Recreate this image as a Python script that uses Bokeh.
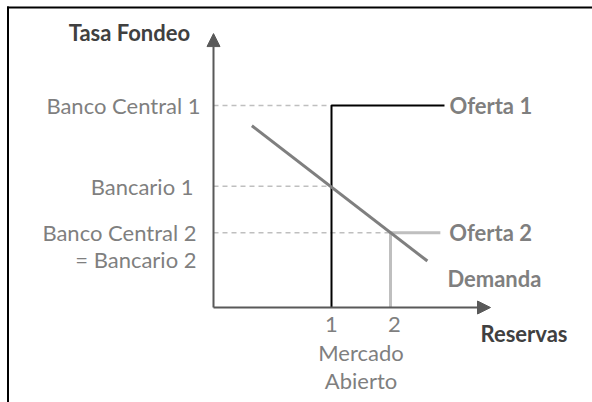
from bokeh.plotting import figure
from bokeh.models import Range1d, Arrow, NormalHead, Label, Span
from bokeh.embed import file_html
from bokeh.resources import INLINE

# ---- data (conceptual units) ----
rate_labels = ["Banco Central 1", "Bancario 1", "Banco Central 2"]
rate_levels = [10.0, 6.0, 3.7]
rate_reserve = [4.0, 4.0, 6.0]          # where each dashed guide ends
extra_rate_label = "= Bancario 2"
reserve_ticks = ["1", "2"]
reserve_levels = [4.0, 6.0]
omo_label = ["Mercado", "Abierto"]
demand_x = [1.3, 7.25]
demand_y = [9.0, 2.3]
supply1_x = [4.0, 4.0, 7.83]
supply1_y = [0.0, 10.0, 10.0]
supply2_x = [6.0, 6.0, 7.69]
supply2_y = [0.0, 3.7, 3.7]
axis_x_max = 9.39
axis_y_max = 13.56
y_title = "Tasa  Fondeo"
x_title = "Reservas"
supply_names = ["Oferta 1", "Oferta 2"]
demand_name = "Demanda"

# ---- layout ----
W, H = 592, 402
PX_X, PX_Y = 29.5, 20.2
OX, OY = 213, 307            # pixel position of the origin inside the figure
x0 = -OX / PX_X
y1 = OY / PX_Y
xr = Range1d(x0, x0 + W / PX_X)
yr = Range1d(y1 - H / PX_Y, y1)

p = figure(width=W, height=H, x_range=xr, y_range=yr, min_border=0,
           toolbar_location=None, output_backend="svg",
           x_axis_location=None, y_axis_location=None)
p.grid.visible = False
p.outline_line_color = None
p.background_fill_color = "white"

FONT = "Lato"
GRAY = "#7f7f7f"
DARK = "#404040"
AX = "#595959"
FS = "22px"

# frame (top and left edges)
frame_left = xr.start + 7.5 / PX_X
frame_top = yr.end - 7 / PX_Y
p.segment(x0=[frame_left], y0=[frame_top + 1 / PX_Y], x1=[frame_left], y1=[yr.start],
          line_color="black", line_width=2)
p.segment(x0=[frame_left - 1 / PX_X], y0=[frame_top], x1=[xr.end], y1=[frame_top],
          line_color="black", line_width=2)

# dashed guides
p.segment(x0=[0] * len(rate_levels), y0=rate_levels, x1=rate_reserve, y1=rate_levels,
          line_color="#bfbfbf", line_width=1.5, line_dash="5 4")

# supply curves
p.line(supply1_x, supply1_y, line_color="black", line_width=2)
p.line(supply2_x, supply2_y, line_color="#bfbfbf", line_width=3)

# demand
p.line(demand_x, demand_y, line_color=GRAY, line_width=3)

# axes with arrows
p.add_layout(Arrow(end=NormalHead(size=13, fill_color=AX, line_color=AX),
                   x_start=0, y_start=0, x_end=0, y_end=axis_y_max,
                   line_color=AX, line_width=2))
p.add_layout(Arrow(end=NormalHead(size=13, fill_color=AX, line_color=AX),
                   x_start=0, y_start=0, x_end=axis_x_max, y_end=0,
                   line_color=AX, line_width=2))

def lab(x, y, text, dx=0, dy=0, align="left", bold=False, color=GRAY, size=FS):
    p.add_layout(Label(x=x, y=y, text=text, x_offset=dx, y_offset=dy,
                       text_align=align, text_baseline="middle",
                       text_font=FONT, text_font_size=size, text_color=color,
                       text_font_style="bold" if bold else "normal"))

# rate labels
offs = [-13, -20, -17]
for t, lv, dx in zip(rate_labels, rate_levels, offs):
    lab(0, lv, t, dx=dx, align="right")
lab(0, rate_levels[2], extra_rate_label, dx=-17, dy=-27, align="right")

# reserve ticks
for t, lv, dx in zip(reserve_ticks, reserve_levels, [0, 4]):
    lab(lv, 0, t, dx=dx, dy=-17, align="center")
mid = (reserve_levels[0] + reserve_levels[1]) / 2
lab(mid, 0, omo_label[0], dy=-45, align="center")
lab(mid, 0, omo_label[1], dy=-73, align="center")

# titles
lab(0, axis_y_max, y_title, dx=-18, dy=1, align="right", bold=True, color=DARK)
lab(axis_x_max, 0, x_title, dx=-10, dy=-26, bold=True, color=DARK)

# curve names
lab(supply1_x[-1], supply1_y[-1], supply_names[0], dx=5, bold=True)
lab(supply2_x[-1], supply2_y[-1], supply_names[1], dx=9, bold=True)
lab(demand_x[-1], demand_y[-1], demand_name, dx=20, dy=-17, bold=True)

open("out.html", "w").write(file_html(p, INLINE))
